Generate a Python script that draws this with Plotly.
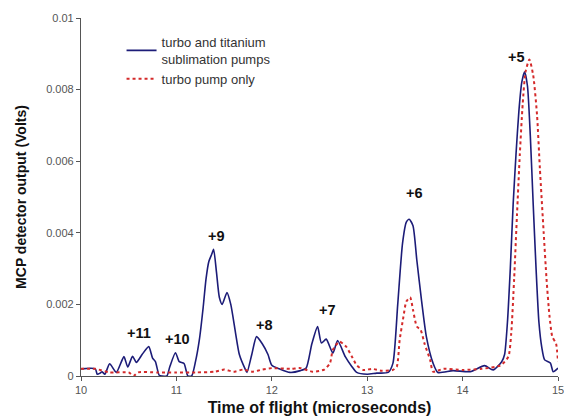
import plotly.graph_objects as go

# Time of flight (microseconds) and MCP output (Volts)
blue_t = [10.0, 10.15, 10.17, 10.2, 10.22, 10.25, 10.3, 10.37, 10.45, 10.49, 10.54, 10.58,
          10.64, 10.71, 10.75, 10.78, 10.82, 10.85, 10.9, 10.93, 10.99, 11.03, 11.08, 11.12,
          11.16, 11.2, 11.24, 11.28, 11.31, 11.34, 11.37, 11.39, 11.42, 11.45, 11.48, 11.53,
          11.57, 11.62, 11.66, 11.72, 11.74, 11.79, 11.84, 11.9, 11.96, 12.0, 12.08, 12.19,
          12.3, 12.36, 12.42, 12.48, 12.52, 12.57, 12.64, 12.69, 12.77, 12.84, 12.89, 13.0,
          13.1, 13.22, 13.27, 13.32, 13.37, 13.41, 13.44, 13.48, 13.52, 13.57, 13.62, 13.69,
          13.74, 13.9, 14.08, 14.23, 14.32, 14.41, 14.44, 14.47, 14.5, 14.53, 14.56, 14.59,
          14.62, 14.65, 14.68, 14.71, 14.74, 14.77, 14.8, 14.83, 14.86, 14.92, 14.95, 15.0]
blue_v = [0.0002, 0.0002, 0.00005, 0.00008, 0.00012, 0.00005, 0.00034, 0.0001, 0.00054, 0.00025,
          0.00055, 0.00038, 0.0006, 0.00082, 0.0005, 0.0004, 0.00002, 0.0, 0.0, 0.00025,
          0.00065, 0.0004, 0.00035, 0.0, 0.0, 0.0004, 0.001, 0.0019, 0.0027, 0.0032,
          0.0034, 0.00354, 0.0029, 0.0022, 0.002, 0.00233, 0.002, 0.0012, 0.0006, 0.0002,
          0.0001, 0.0006, 0.0011, 0.0009, 0.0006, 0.0003, 0.0002, 0.0001, 0.00015, 0.00022,
          0.0009, 0.00138, 0.00092, 0.00103, 0.00064, 0.00099, 0.00054, 0.00026, 0.0001,
          0.00005, 0.00008, 0.0001, 0.00036, 0.002, 0.0037, 0.0043, 0.00438, 0.0042, 0.00324,
          0.0021, 0.0011, 0.00036, 0.0001, 0.00015, 0.00012, 0.00029, 0.00017, 0.0004, 0.0006,
          0.0015, 0.003, 0.0048, 0.0062, 0.0074, 0.0082, 0.0085, 0.0081, 0.0067, 0.0048,
          0.003, 0.0015, 0.0008, 0.00045, 0.00036, 0.00012, 0.00022]

red_t = [10.0, 10.15, 10.3, 10.5, 10.55, 10.6, 10.8, 11.0, 11.2, 11.4, 11.5, 11.6, 11.7, 11.8,
         11.9, 12.0, 12.2, 12.3, 12.43, 12.55, 12.61, 12.64, 12.71, 12.78, 12.84, 12.89, 12.96,
         13.05, 13.15, 13.27, 13.31, 13.34, 13.38, 13.41, 13.45, 13.48, 13.52, 13.56, 13.6,
         13.66, 13.69, 13.8, 14.0, 14.2, 14.4, 14.48, 14.51, 14.54, 14.57, 14.6, 14.63, 14.66,
         14.7, 14.74, 14.78, 14.81, 14.85, 14.88, 14.91, 14.94, 14.98, 15.0]
red_v = [0.0002, 0.0002, 0.0001, 0.0001, 0.0, 0.0001, 0.0001, 0.0001, 0.0001, 0.00012,
         0.00018, 0.00012, 0.00018, 0.00012, 0.00018, 0.00022, 0.0002, 0.00022, 0.00012,
         0.00018, 0.00036, 0.00073, 0.00096, 0.00082, 0.00054, 0.0003, 0.00017, 0.0002,
         0.00015, 0.00017, 0.00026, 0.001, 0.00166, 0.00208, 0.0022, 0.00185, 0.00138, 0.00129,
         0.00091, 0.00045, 0.00012, 0.0002, 0.00017, 0.0002, 0.0003, 0.00054, 0.0012, 0.0027,
         0.0045, 0.0062, 0.0076, 0.0085, 0.00884, 0.0084, 0.0073, 0.0058, 0.004, 0.0027,
         0.0017, 0.0011, 0.0009, 0.0004]

peak_labels = ["+11", "+10", "+9", "+8", "+7", "+6", "+5"]
peak_t = [10.61, 11.01, 11.42, 11.92, 12.58, 13.5, 14.57]
peak_v = [0.0012, 0.00103, 0.0039, 0.00142, 0.00185, 0.0051, 0.0089]

y_ticks = [0, 0.002, 0.004, 0.006, 0.008, 0.01]
y_tick_text = ["0", "0.002", "0.004", "0.006", "0.008", "0.01"]
x_ticks = [10, 11, 12, 13, 14, 15]

fig = go.Figure()
fig.add_trace(go.Scatter(x=blue_t, y=blue_v, mode="lines",
                         name="turbo and titanium<br>sublimation pumps",
                         line=dict(color="#1c1c78", width=1.6, shape="spline", smoothing=0.6)))
fig.add_trace(go.Scatter(x=red_t, y=red_v, mode="lines", name="turbo pump only",
                         line=dict(color="#d42a2a", width=2, dash="dot", shape="spline", smoothing=0.6)))

for lab, t, v in zip(peak_labels, peak_t, peak_v):
    fig.add_annotation(x=t, y=v, text="<b>" + lab + "</b>", showarrow=False,
                       font=dict(size=14.5, color="#111111", family="Liberation Sans, Arial"))

fig.update_layout(
    width=572, height=420,
    margin=dict(l=73, r=22, t=10, b=52),
    paper_bgcolor="white", plot_bgcolor="white",
    font=dict(family="Liberation Sans, Arial", size=11, color="#444444"),
    showlegend=True,
    legend=dict(x=0.085, y=0.975, xanchor="left", yanchor="top",
                bgcolor="rgba(0,0,0,0)", font=dict(size=13, color="#333333"),
                itemwidth=30, tracegroupgap=4),
    xaxis=dict(range=[10, 15], tickvals=x_ticks, showgrid=False, zeroline=False,
               showline=True, linecolor="#555555", linewidth=1.2,
               ticks="outside", ticklen=4, tickcolor="#555555",
               tickfont=dict(size=11, color="#555555"), automargin=False,
               title=dict(text="<b>Time of flight (microseconds)</b>", standoff=6,
                          font=dict(size=16, color="#111111"))),
    yaxis=dict(range=[0, 0.01], tickvals=y_ticks, ticktext=y_tick_text, showgrid=False,
               zeroline=False, showline=True, linecolor="#555555", linewidth=1.2,
               ticks="outside", ticklen=4, tickcolor="#555555",
               tickfont=dict(size=11, color="#555555"), automargin=False,
               title=dict(text="<b>MCP detector output (Volts)</b>", standoff=16,
                          font=dict(size=14, color="#111111"))),
)

fig.write_html("out.html")
